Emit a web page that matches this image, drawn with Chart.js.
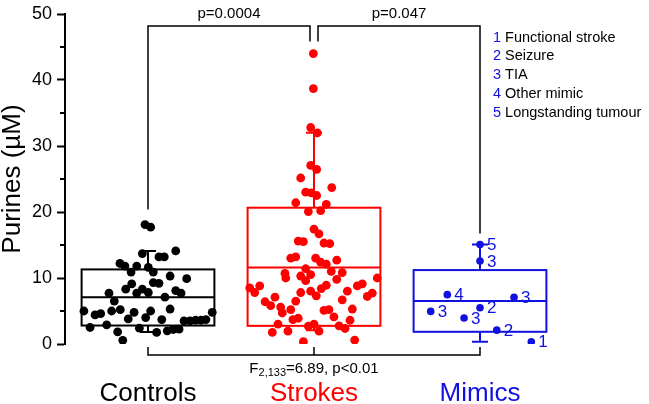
<!DOCTYPE html>
<html><head><meta charset="utf-8">
<script src="https://cdn.jsdelivr.net/npm/chart.js@4"></script>
<style>html,body{margin:0;padding:0;background:#fff}canvas{display:block}</style>
</head><body>
<canvas id="c" width="649" height="404"></canvas>
<script>
const categories = ['Controls', 'Strokes', 'Mimics'];
const groupColors = ['#000000', '#ff0000', '#1010e0'];
const yTickValues = [0, 10, 20, 30, 40, 50];

const controlsValues = [18.1,17.7,13.7,14.1,13.2,13.2,12.2,11.8,11.8,10.9,11.6,10.9,10.3,9.9,9.1,8.3,8.3,9.3,9.2,7.7,7.8,7.7,8.1,7.7,7.1,6.5,5.0,4.4,4.6,5.0,5.2,4.8,5.0,5.3,3.8,4.0,3.7,4.8,3.5,3.5,3.6,3.6,3.7,2.5,2.9,2.4,1.75,2.0,2.2,2.25,1.85,0.55];
const controlsJitter = [-0.018,0.016,-0.034,0.167,0.066,0.098,-0.169,-0.139,-0.068,-0.102,0.002,0.032,0.133,0.233,-0.098,-0.134,-0.034,0.032,0.066,-0.068,0.002,-0.235,0.167,0.199,0.102,-0.203,-0.386,-0.319,-0.285,-0.219,-0.167,-0.084,0.016,0.133,-0.119,-0.014,0.083,0.387,0.217,0.253,0.287,0.319,0.349,-0.349,-0.249,-0.052,0.052,0.116,0.152,0.187,-0.183,-0.152];

const strokesValues = [44.0,38.7,32.8,32.0,27.05,26.45,25.15,23.7,23.0,22.9,22.5,21.4,21.15,20.06,20.2,17.4,16.7,15.6,15.5,15.3,15.2,13.0,13.2,13.0,12.4,12.1,12.7,11.4,10.7,10.0,10.3,10.5,9.6,11.0,10.8,9.8,10.0,8.5,7.8,8.8,7.1,6.4,5.8,5.6,4.7,5.2,6.5,7.8,8.0,7.3,8.4,8.9,6.7,8.0,8.8,9.1,7.2,7.7,5.3,5.1,5.2,4.1,3.7,3.9,3.6,3.0,1.75,1.95,2.7,3.0,1.95,2.75,2.35,0.35,0.6];
const strokesJitter = [-0.004,-0.004,-0.020,0.020,-0.020,0.016,-0.080,0.107,-0.050,-0.016,0.016,-0.110,0.074,-0.034,0.040,0,0.030,-0.095,-0.064,0.060,0.095,-0.140,-0.110,0.010,0.040,0.074,0.137,-0.050,-0.175,-0.170,-0.080,-0.020,-0.050,0.104,0.170,0.137,0.381,-0.387,-0.357,-0.327,-0.235,-0.295,-0.261,-0.201,-0.191,-0.140,-0.110,-0.080,-0.020,0.014,0.044,0.074,0.170,0.201,0.261,0.291,0.321,0.351,0.231,0.060,0.090,0.120,-0.127,-0.095,0.217,-0.217,-0.251,-0.157,-0.034,0,0.030,0.151,0.187,-0.064,0.245];

const mimicsValues = [15.07,12.57,7.48,7.08,4.94,5.49,3.94,2.1,0.35];
const mimicsJitter = [0,0,-0.197,0.205,-0.297,0,-0.096,0.101,0.309];
const mimicTypes = ['5','3','4','3','3','2','3','2','1'];

const boxLow = [1.8, 2.1, 0.35];
const boxQ1 = [2.8, 2.75, 1.85];
const boxMedian = [7.1, 11.6, 6.5];
const boxQ3 = [11.3, 20.65, 11.2];
const boxHigh = [14.1, 32.0, 15.07];

const pValueLabels = ['p=0.0004', 'p=0.047'];
const anovaMain = 'F';
const anovaSub = '2,133';
const anovaRest = '=6.89, p<0.01';
const legendNumbers = ['1', '2', '3', '4', '5'];
const legendLabels = ['Functional stroke', 'Seizure', 'TIA', 'Other mimic', 'Longstanding tumour'];
const yTitle = 'Purines (µM)';

const FONT = "'Liberation Sans', Arial, Helvetica, sans-serif";

function toPoints(vals, jit, g) { return vals.map((v, i) => ({ x: g + 0.5 + jit[i], y: v })); }

const annot = {
  id: 'annot',
  beforeDatasetsDraw(chart) {
    const { ctx, scales: { x, y } } = chart;
    const catW = x.getPixelForValue(1) - x.getPixelForValue(0);
    ctx.save();
    ctx.lineWidth = 2;
    categories.forEach((c, i) => {
      const cx = x.getPixelForValue(i + 0.5);
      const hw = catW * 0.4;
      const cap = 8;
      ctx.strokeStyle = groupColors[i];
      const yq1 = y.getPixelForValue(boxQ1[i]), yq3 = y.getPixelForValue(boxQ3[i]);
      const ym = y.getPixelForValue(boxMedian[i]);
      const ylo = y.getPixelForValue(boxLow[i]), yhi = y.getPixelForValue(boxHigh[i]);
      ctx.strokeRect(cx - hw, yq3, 2 * hw, yq1 - yq3);
      ctx.beginPath();
      ctx.moveTo(cx - hw, ym); ctx.lineTo(cx + hw, ym);
      ctx.moveTo(cx, yq3); ctx.lineTo(cx, yhi);
      ctx.moveTo(cx - cap, yhi); ctx.lineTo(cx + cap, yhi);
      ctx.moveTo(cx, yq1); ctx.lineTo(cx, ylo);
      ctx.moveTo(cx - cap, ylo); ctx.lineTo(cx + cap, ylo);
      ctx.stroke();
    });
    ctx.restore();
  },
  afterDatasetsDraw(chart) {
    const { ctx } = chart;
    const meta = chart.getDatasetMeta(2);
    ctx.save();
    ctx.fillStyle = groupColors[2];
    ctx.font = '17px ' + FONT;
    ctx.textAlign = 'left';
    ctx.textBaseline = 'middle';
    meta.data.forEach((pt, k) => { ctx.fillText(mimicTypes[k], pt.x + 7, pt.y + 1); });
    ctx.restore();
  },
  afterDraw(chart) {
    const { ctx, chartArea: A, scales: { x, y } } = chart;
    const cx = i => x.getPixelForValue(i + 0.5);
    ctx.save();
    // minor ticks
    ctx.strokeStyle = '#000'; ctx.lineWidth = 2;
    ctx.beginPath();
    [5, 15, 25, 35, 45].forEach(v => {
      const py = Math.round(y.getPixelForValue(v));
      ctx.moveTo(A.left - 5, py); ctx.lineTo(A.left, py);
    });
    ctx.stroke();
    // significance brackets
    ctx.lineWidth = 1.5;
    const topY = A.top + 12;
    const dropC = y.getPixelForValue(Math.max(...controlsValues)) - 15;
    const dropS = y.getPixelForValue(Math.max(...strokesValues)) - 12;
    const dropM = y.getPixelForValue(Math.max(...mimicsValues)) - 11;
    ctx.beginPath();
    ctx.moveTo(cx(0), dropC); ctx.lineTo(cx(0), topY); ctx.lineTo(cx(1) - 4, topY); ctx.lineTo(cx(1) - 4, dropS);
    ctx.moveTo(cx(1) + 4, dropS); ctx.lineTo(cx(1) + 4, topY); ctx.lineTo(cx(2), topY); ctx.lineTo(cx(2), dropM);
    ctx.stroke();
    ctx.fillStyle = '#000';
    ctx.font = '15px ' + FONT;
    ctx.textAlign = 'center'; ctx.textBaseline = 'alphabetic';
    ctx.fillText(pValueLabels[0], (cx(0) + cx(1) - 4) / 2, A.top + 4);
    ctx.fillText(pValueLabels[1], (cx(1) + 4 + cx(2)) / 2, A.top + 4);
    // bottom bracket
    const by = A.bottom + 11;
    ctx.beginPath();
    ctx.moveTo(cx(0), A.bottom + 3); ctx.lineTo(cx(0), by); ctx.lineTo(cx(2), by); ctx.lineTo(cx(2), A.bottom + 3);
    ctx.moveTo(cx(1), A.bottom + 3); ctx.lineTo(cx(1), by);
    ctx.stroke();
    // ANOVA text
    const fMain = '15px ' + FONT, fSub = '11px ' + FONT;
    ctx.textAlign = 'left';
    ctx.font = fMain; const w1 = ctx.measureText(anovaMain).width; const w3 = ctx.measureText(anovaRest).width;
    ctx.font = fSub; const w2 = ctx.measureText(anovaSub).width;
    let tx = cx(1) - (w1 + w2 + w3) / 2;
    const base = A.bottom + 29;
    ctx.font = fMain; ctx.fillText(anovaMain, tx, base); tx += w1;
    ctx.font = fSub; ctx.fillText(anovaSub, tx, base + 3); tx += w2;
    ctx.font = fMain; ctx.fillText(anovaRest, tx, base);
    // legend
    ctx.font = '14.5px ' + FONT;
    const lx = A.right - 70;
    legendLabels.forEach((t, i) => {
      const ly = A.top + 27.5 + i * 18.8;
      ctx.fillStyle = groupColors[2];
      ctx.fillText(legendNumbers[i], lx, ly);
      const nw = ctx.measureText(legendNumbers[i] + ' ').width;
      ctx.fillStyle = '#000';
      ctx.fillText(t, lx + nw, ly);
    });
    ctx.restore();
  }
};

new Chart(document.getElementById('c'), {
  type: 'scatter',
  data: {
    datasets: [
      { data: toPoints(controlsValues, controlsJitter, 0), backgroundColor: groupColors[0], pointRadius: 4.4, borderWidth: 0 },
      { data: toPoints(strokesValues, strokesJitter, 1), backgroundColor: groupColors[1], pointRadius: 4.4, borderWidth: 0 },
      { data: toPoints(mimicsValues, mimicsJitter, 2), backgroundColor: groupColors[2], pointRadius: 3.8, borderWidth: 0 }
    ]
  },
  options: {
    responsive: false,
    animation: false,
    devicePixelRatio: 1,
    layout: { padding: { top: 10, right: 86, left: 0, bottom: 0 } },
    plugins: { legend: { display: false }, tooltip: { enabled: false } },
    scales: {
      x: {
        type: 'linear', min: 0, max: 3,
        grid: { display: false, drawTicks: false },
        border: { display: false },
        afterBuildTicks: s => { s.ticks = categories.map((c, i) => ({ value: i + 0.5 })); },
        afterFit: s => { s.height = 60; },
        ticks: {
          autoSkip: false, maxRotation: 0, padding: 34,
          font: { family: FONT, size: 26 },
          color: ctx => groupColors[ctx.index],
          callback: (v, i) => categories[i]
        }
      },
      y: {
        type: 'linear', min: 0, max: 50,
        afterBuildTicks: s => { s.ticks = yTickValues.map(v => ({ value: v })); },
        afterFit: s => { s.width = 65; },
        grid: { display: true, drawOnChartArea: false, drawTicks: true, tickLength: 8, tickWidth: 2, tickColor: '#000' },
        border: { display: true, color: '#000', width: 2 },
        ticks: { autoSkip: false, padding: 5, color: '#000', font: { family: FONT, size: 18, lineHeight: 1 } },
        title: { display: true, text: yTitle, color: '#000', padding: 0, font: { family: FONT, size: 26, lineHeight: 1 } }
      }
    }
  },
  plugins: [annot]
});
</script>
</body></html>
